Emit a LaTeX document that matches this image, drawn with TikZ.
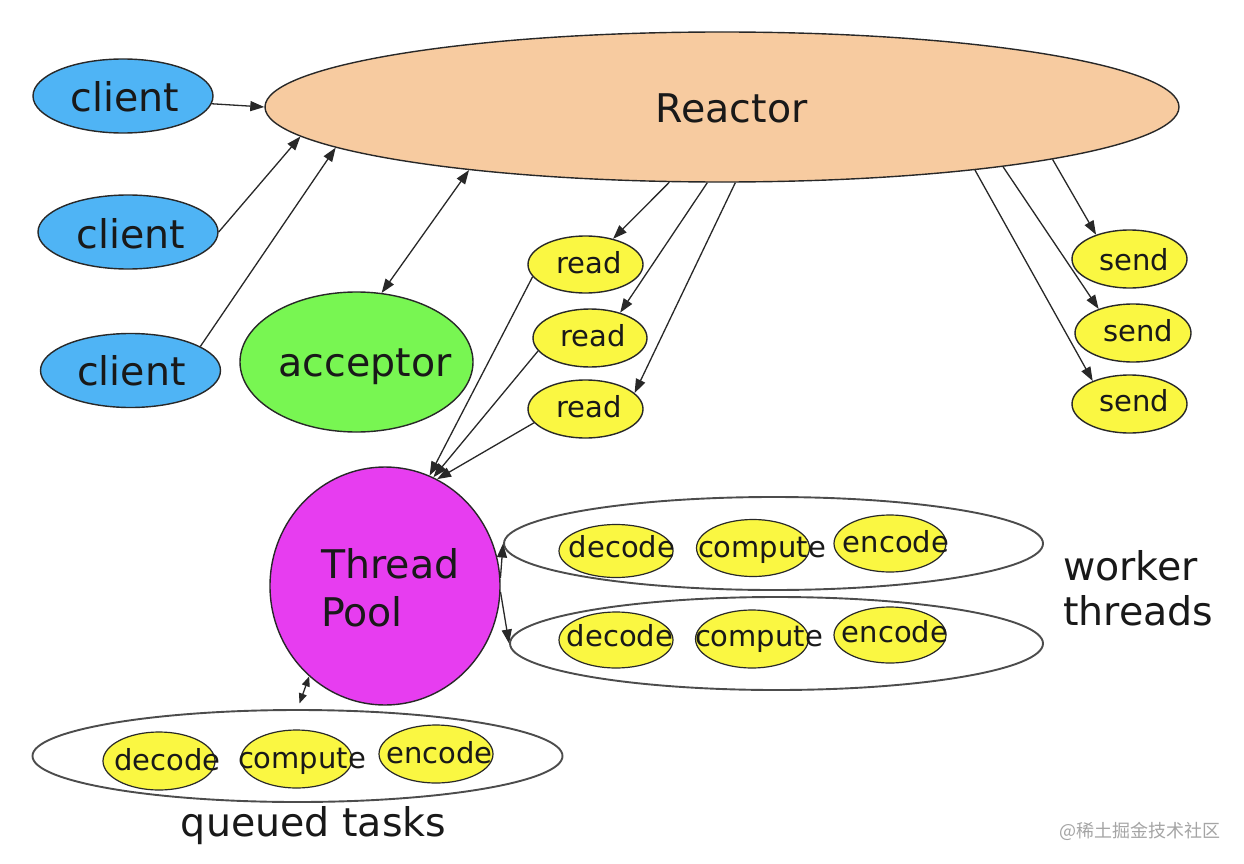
\documentclass[tikz,border=0pt]{standalone}
\usepackage{fontspec}
\setmainfont{DejaVu Sans}
\newfontfamily\cjkfont{Noto Sans CJK SC}
\usetikzlibrary{shapes.geometric,arrows.meta}
\definecolor{reactorc}{RGB}{247,203,160}
\definecolor{clientc}{RGB}{79,180,245}
\definecolor{acceptc}{RGB}{120,246,82}
\definecolor{yellowc}{RGB}{250,247,66}
\definecolor{poolc}{RGB}{231,61,240}
\definecolor{linec}{RGB}{40,40,40}
\definecolor{markc}{RGB}{165,165,165}
\begin{document}
\begin{tikzpicture}[x=1pt,y=-1pt,
  shp/.style={ellipse, draw=linec, line width=1.4pt, inner sep=0pt},
  sz/.style 2 args={minimum width=#1pt, minimum height=#2pt},
  grp/.style={ellipse, draw=black!70, line width=1.9pt, inner sep=0pt, fill=white},
  task/.style={shp, fill=yellowc, line width=1.2pt},
  conn/.style={-{Triangle[length=14pt,width=10pt]}, line width=1.3pt, draw=linec},
  biconn/.style={{Triangle[length=14pt,width=10pt]}-{Triangle[length=14pt,width=10pt]}, line width=1.3pt, draw=linec},
  smallbi/.style={{Triangle[length=10pt,width=8pt]}-{Triangle[length=10pt,width=8pt]}, line width=1.3pt, draw=linec},
  txt/.style={inner sep=0pt, anchor=base, text=black!90},
  txtl/.style={inner sep=0pt, anchor=base west, text=black!90},
  big/.style={font=\fontsize{39.5}{47}\selectfont},
  mid/.style={font=\fontsize{29}{35}\selectfont},
  tsk/.style={font=\fontsize{29}{35}\selectfont}]
\fill[white] (0,0) rectangle (1244,864);
\useasboundingbox (0,0) rectangle (1244,864);

% main shapes
\node[shp, fill=reactorc, sz={914}{150}] (reactor) at (722,107) {};
\node[shp, fill=clientc, sz={180}{74}] (c1) at (123,96) {};
\node[shp, fill=clientc, sz={180}{74}] (c2) at (128,232) {};
\node[shp, fill=clientc, sz={180}{74}] (c3) at (130.5,370.5) {};
\node[shp, fill=acceptc, sz={233}{140}] (acc) at (356.5,362) {};
\node[shp, fill=yellowc, sz={115}{57}] (r1) at (585.5,264.5) {};
\node[shp, fill=yellowc, sz={114}{58}] (r2) at (590,338) {};
\node[shp, fill=yellowc, sz={115}{58}] (r3) at (585.5,409) {};
\node[shp, fill=yellowc, sz={115}{58}] (s1) at (1129.5,259) {};
\node[shp, fill=yellowc, sz={116}{58}] (s2) at (1133,333) {};
\node[shp, fill=yellowc, sz={115}{58}] (s3) at (1129.5,404) {};
\node[shp, fill=poolc, sz={230}{238}] (tp) at (385,586) {};

% groups
\node[grp, sz={539}{93}] (w1) at (773.5,543.5) {};
\node[grp, sz={533}{93}] (w2) at (776.5,643.5) {};
\node[grp, sz={530}{92}] (q) at (297.5,756) {};

% tasks
\node[task, sz={114}{53}] (w1d) at (616,551) {};
\node[task, sz={113}{57}] (w1c) at (753,548) {};
\node[task, sz={112}{57}] (w1e) at (890,543.5) {};
\node[task, sz={114}{56}] (w2d) at (616,640) {};
\node[task, sz={113}{58}] (w2c) at (752,639) {};
\node[task, sz={112}{56}] (w2e) at (890,635) {};
\node[task, sz={112}{58}] (qd) at (159,761) {};
\node[task, sz={111}{58}] (qc) at (296.5,759) {};
\node[task, sz={114}{58}] (qe) at (436,754) {};

% labels
\node[txt, big] (c1t) at (125,111.7) {client};
\node[txt, big] (c2t) at (131,248.3) {client};
\node[txt, big] (c3t) at (131.5,385) {client};
\node[txt, big] (reactort) at (731.5,122.7) {Reactor};
\node[txt, big] (acct) at (365,376.7) {acceptor};
\node[txtl, big] (tpt1) at (321,578.3) {Thread};
\node[txtl, big] (tpt2) at (321,626.7) {Pool};
\node[txtl, big] (wt1) at (1063,580) {worker};
\node[txtl, big] (wt2) at (1063,625) {threads};
\node[txt, big] (qt) at (313.5,836.7) {queued tasks};
\node[txt, mid] (r1t) at (589,273.3) {read};
\node[txt, mid] (r2t) at (593,346.7) {read};
\node[txt, mid] (r3t) at (589,417.3) {read};
\node[txt, mid] (s1t) at (1134,270) {send};
\node[txt, mid] (s2t) at (1138,341.7) {send};
\node[txt, mid] (s3t) at (1134,411.7) {send};
\node[txt, tsk] (w1dt) at (622,557) {decode};
\node[txt, tsk] (w1ct) at (762,557) {compute};
\node[txt, tsk] (w1et) at (896,552) {encode};
\node[txt, tsk] (w2dt) at (620,646) {decode};
\node[txt, tsk] (w2ct) at (759,646) {compute};
\node[txt, tsk] (w2et) at (895,642) {encode};
\node[txt, tsk] (qdt) at (167.5,770) {decode};
\node[txt, tsk] (qct) at (302,768) {compute};
\node[txt, tsk] (qet) at (439.5,763) {encode};

% connectors
\draw[conn] (c1.-5) -- (reactor.180);
\draw[conn] (c2.0) -- (reactor.184);
\draw[conn] (c3.19) -- (reactor.186.3);
\draw[biconn] (acc.70) -- (reactor.194);
\draw[conn] (reactor.235) -- (r1.43);
\draw[conn] (reactor.259) -- (r2.40);
\draw[conn] (reactor.280) -- (r3.18);
\draw[conn] (r1.193) -- (tp.68);
\draw[conn] (r2.194) -- (tp.66);
\draw[conn] (r3.195) -- (tp.64);
\draw[conn] (reactor.-9.3) -- (s1.144);
\draw[conn] (reactor.-12.5) -- (s2.145);
\draw[conn] (reactor.-14.5) -- (s3.148);
\draw[conn] (tp.4) -- (w1.180);
\draw[conn] (tp.-3) -- (w2.180);
\draw[smallbi, shorten >=6pt] (tp.230.5) -- (q.north);

% watermark
\node[inner sep=0pt, text=markc, font=\cjkfont\fontsize{18}{22}\selectfont] (mark) at (1140,831) {@稀土掘金技术社区};
\end{tikzpicture}
\end{document}
